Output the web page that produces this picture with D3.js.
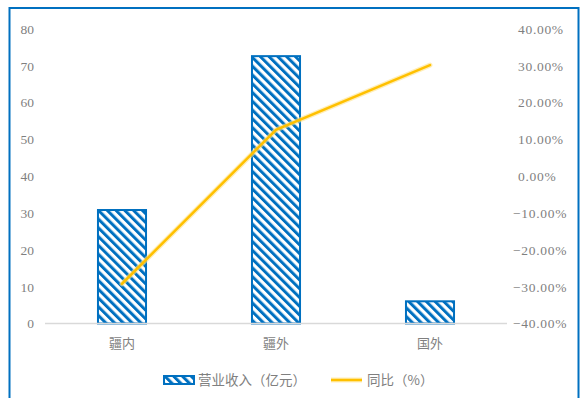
<!DOCTYPE html>
<html>
<head>
<meta charset="utf-8">
<script src="https://cdn.jsdelivr.net/npm/d3@7"></script>
<style>
  body { margin: 0; background: #fff; }
  #graphic { width: 584px; height: 398px; }
  .tick text { fill: #7f7f7f; }
</style>
</head>
<body>
<div id="graphic"></div>
<script>
// chart data
var categories = ["疆内", "疆外", "国外"];
var revenue = [31.1, 72.9, 6.3];      // 营业收入（亿元）
var yoy = [-29.2, 12.6, 30.2];        // 同比（%）
var leftTicks = [0, 10, 20, 30, 40, 50, 60, 70, 80];
var rightTicks = [-40, -30, -20, -10, 0, 10, 20, 30, 40];
var legendLabels = ["营业收入（亿元）", "同比（%）"];

var width = 584, height = 398;
var margin = {top: 29, right: 77, bottom: 74, left: 45};
var blue = "#0070C0", gold = "#FFC000";

var svg = d3.select("#graphic").append("svg")
  .attr("width", width)
  .attr("height", height);

// hatch pattern for the bars
var defs = svg.append("defs");
defs.append("pattern")
  .attr("id", "hatch")
  .attr("patternUnits", "userSpaceOnUse")
  .attr("width", 6.2)
  .attr("height", 6.2)
  .attr("patternTransform", "rotate(-45)")
  .append("rect")
  .attr("width", 3)
  .attr("height", 6.2)
  .attr("fill", blue);

// outer border
svg.append("rect")
  .attr("x", 9.5).attr("y", 8)
  .attr("width", 569).attr("height", 400)
  .attr("fill", "none")
  .attr("stroke", blue)
  .attr("stroke-width", 2);

var x = d3.scaleBand()
  .domain(categories)
  .range([margin.left, width - margin.right])
  .paddingInner(0.675)
  .paddingOuter(0.3375);

var y = d3.scaleLinear()
  .domain([0, 80])
  .range([height - margin.bottom - 0.5, margin.top]);

var y2 = d3.scaleLinear()
  .domain([-40, 40])
  .range([height - margin.bottom - 0.5, margin.top]);

var xc = function(d) { return x(d) + x.bandwidth() / 2; };

// left axis
var leftAxis = svg.append("g")
  .attr("transform", "translate(34,0)")
  .call(d3.axisLeft(y).tickValues(leftTicks).tickSize(0).tickPadding(0).tickFormat(d3.format("d")));
leftAxis.select(".domain").remove();
leftAxis.selectAll("text")
  .style("font-family", "'Liberation Serif', serif")
  .style("font-size", "13.5px");

// right axis
var rightAxis = svg.append("g")
  .attr("transform", "translate(518,0)")
  .call(d3.axisRight(y2).tickValues(rightTicks).tickSize(0).tickPadding(0)
    .tickFormat(function(d) { return (d < 0 ? "−" : "") + Math.abs(d).toFixed(2) + "%"; }));
rightAxis.select(".domain").remove();
rightAxis.selectAll("text")
  .attr("x", function(d) { return d < 0 ? -5 : 0; })
  .style("font-family", "'Liberation Serif', serif")
  .style("font-size", "13.5px")
  .style("letter-spacing", "0.7px");

// bars
svg.selectAll("rect.bar")
  .data(revenue)
  .join("rect")
  .attr("class", "bar")
  .attr("x", function(d, i) { return x(categories[i]) + 1; })
  .attr("y", function(d) { return y(d) + 1; })
  .attr("width", x.bandwidth() - 2)
  .attr("height", function(d) { return y(0) - y(d) - 1; })
  .attr("fill", "url(#hatch)")
  .attr("stroke", blue)
  .attr("stroke-width", 2);

// x axis line
svg.append("line")
  .attr("x1", margin.left).attr("x2", width - margin.right)
  .attr("y1", y(0)).attr("y2", y(0))
  .attr("stroke", "#d9d9d9")
  .attr("stroke-width", 1.5);

// category labels
svg.selectAll("text.cat")
  .data(categories)
  .join("text")
  .attr("class", "cat")
  .attr("x", xc)
  .attr("y", y(0) + 24)
  .attr("text-anchor", "middle")
  .attr("fill", "#7f7f7f")
  .style("font-family", "'Noto Sans CJK SC', sans-serif")
  .style("font-size", "13px")
  .text(function(d) { return d; });

// yoy line
var line = d3.line()
  .x(function(d, i) { return xc(categories[i]); })
  .y(function(d) { return y2(d); });

svg.append("path")
  .datum(yoy)
  .attr("d", line)
  .attr("fill", "none")
  .attr("stroke", "#ffe38a")
  .attr("stroke-width", 5)
  .attr("stroke-linecap", "round")
  .attr("opacity", 0.6);

svg.append("path")
  .datum(yoy)
  .attr("d", line)
  .attr("fill", "none")
  .attr("stroke", gold)
  .attr("stroke-width", 2.5)
  .attr("stroke-linecap", "round");

// legend
var legend = svg.append("g").attr("transform", "translate(0,380)");
legend.append("rect")
  .attr("x", 164).attr("y", -4)
  .attr("width", 30).attr("height", 8)
  .attr("fill", "url(#hatch)")
  .attr("stroke", blue)
  .attr("stroke-width", 2);
legend.append("text")
  .attr("x", 198).attr("y", 0)
  .attr("dy", "0.36em")
  .attr("fill", "#7f7f7f")
  .style("font-family", "'Noto Sans CJK SC', sans-serif")
  .style("font-size", "13.5px")
  .text(legendLabels[0]);

legend.append("line")
  .attr("x1", 331).attr("x2", 362)
  .attr("y1", 0).attr("y2", 0)
  .attr("stroke", "#ffe38a")
  .attr("stroke-width", 5)
  .attr("opacity", 0.6);
legend.append("line")
  .attr("x1", 331).attr("x2", 362)
  .attr("y1", 0).attr("y2", 0)
  .attr("stroke", gold)
  .attr("stroke-width", 2.5);
legend.append("text")
  .attr("x", 367).attr("y", 0)
  .attr("dy", "0.36em")
  .attr("fill", "#7f7f7f")
  .style("font-family", "'Noto Sans CJK SC', sans-serif")
  .style("font-size", "13.5px")
  .text(legendLabels[1]);
</script>
</body>
</html>
